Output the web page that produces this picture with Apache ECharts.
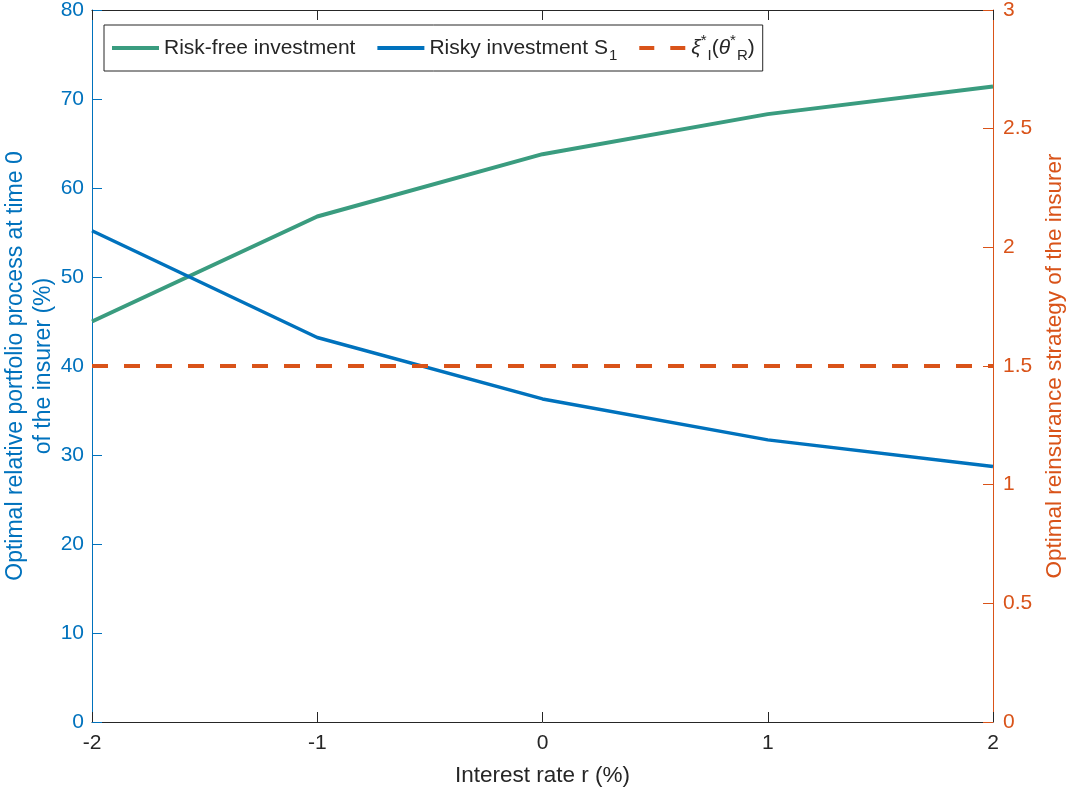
<!DOCTYPE html>
<html>
<head>
<meta charset="utf-8">
<script src="https://cdn.jsdelivr.net/npm/echarts@6/dist/echarts.min.js"></script>
<style>html,body{margin:0;padding:0;background:#fff;}#c{width:1068px;height:787px;}</style>
</head>
<body>
<div id="c"></div>
<script>
var rates = [-2, -1, 0, 1, 2];
var riskFree = [45.0, 56.8, 63.8, 68.3, 71.4];
var risky = [55.2, 43.2, 36.3, 31.7, 28.7];
var reinsurance = [1.5, 1.5, 1.5, 1.5, 1.5];
var xTicks = [-2, -1, 0, 1, 2];

function pairs(xs, ys) { return xs.map(function (x, i) { return [x, ys[i]]; }); }

var FONT = '"Liberation Sans", Arial, Helvetica, sans-serif';
var BLUE = '#0072BD', ORANGE = '#D95319', GREEN = '#3A9C7F', DARK = '#262626';

var chart = echarts.init(document.getElementById('c'));
chart.setOption({
  animation: false,
  backgroundColor: '#fff',
  textStyle: { fontFamily: FONT },
  grid: { left: 92, right: 75, top: 10, bottom: 65, containLabel: false, outerBoundsMode: 'none' },
  legend: {
    left: 104, top: 25,
    padding: [8, 8, 8, 6],
    itemGap: 20,
    itemWidth: 47, itemHeight: 20,
    borderColor: '#262626', borderWidth: 1, backgroundColor: '#fff',
    itemStyle: { opacity: 0 },
    textStyle: {
      fontFamily: FONT, fontSize: 21, color: DARK,
      rich: {
        n: { fontSize: 21, color: DARK, fontFamily: FONT },
        i: { fontSize: 21, color: DARK, fontFamily: FONT, fontStyle: 'italic' },
        sub: { fontSize: 15, color: DARK, fontFamily: FONT, verticalAlign: 'bottom', padding: [15, 0, 0, 1] },
        sup: { fontSize: 15, color: DARK, fontFamily: FONT, verticalAlign: 'top', padding: [0, 0, 8, 0] }
      }
    },
    formatter: function (name) {
      if (name === 'risky') return '{n|Risky investment S}{sub|1}';
      if (name === 'xi') return '{i|ξ}{sup|*}{sub|I}{n|(}{i|θ}{sup|*}{sub|R}{n|)}';
      return '{n|Risk-free investment}';
    },
    data: [
      { name: 'riskfree', lineStyle: { color: GREEN, width: 4 } },
      { name: 'risky', lineStyle: { color: BLUE, width: 4 } },
      { name: 'xi', lineStyle: { color: ORANGE, width: 4, type: [15, 16] } }
    ]
  },
  xAxis: [{
    type: 'value', min: -2, max: 2, interval: 1,
    name: 'Interest rate r (%)', nameLocation: 'middle', nameGap: 42,
    nameTextStyle: { fontSize: 22.5, color: DARK, fontFamily: FONT },
    axisLine: { lineStyle: { color: DARK, width: 1 } },
    axisTick: { inside: true, length: 10, lineStyle: { color: DARK } },
    axisLabel: { fontSize: 21, color: DARK, margin: 11, fontFamily: FONT,
      formatter: function (v) { return xTicks.indexOf(v) >= 0 ? String(v) : ''; } },
    splitLine: { show: false }
  }, {
    type: 'value', min: -2, max: 2, interval: 1, position: 'top',
    axisLine: { onZero: false, lineStyle: { color: DARK, width: 1 } },
    axisTick: { inside: true, length: 10, lineStyle: { color: DARK } },
    axisLabel: { show: false }, splitLine: { show: false }
  }],
  yAxis: [{
    type: 'value', min: 0, max: 80, interval: 10, position: 'left',
    name: 'Optimal relative portfolio process at time 0\nof the insurer (%)',
    nameLocation: 'middle', nameGap: 34, nameMoveOverlap: false,
    nameTextStyle: { fontSize: 23, color: BLUE, fontFamily: FONT, lineHeight: 28 },
    axisLine: { show: true, onZero: false, lineStyle: { color: BLUE, width: 1 } },
    axisTick: { show: true, inside: true, length: 10, lineStyle: { color: BLUE } },
    axisLabel: { fontSize: 21, color: BLUE, margin: 8, fontFamily: FONT },
    splitLine: { show: false }
  }, {
    type: 'value', min: 0, max: 3, interval: 0.5, position: 'right',
    name: 'Optimal reinsurance strategy of the insurer',
    nameLocation: 'middle', nameGap: 50,
    nameTextStyle: { fontSize: 22.5, color: ORANGE, fontFamily: FONT },
    axisLine: { show: true, onZero: false, lineStyle: { color: ORANGE, width: 1 } },
    axisTick: { show: true, inside: true, length: 10, lineStyle: { color: ORANGE } },
    axisLabel: { fontSize: 21, color: ORANGE, margin: 10, fontFamily: FONT },
    splitLine: { show: false }
  }],
  series: [{
    name: 'riskfree', type: 'line', xAxisIndex: 0, yAxisIndex: 0,
    data: pairs(rates, riskFree), symbol: 'none', color: GREEN,
    lineStyle: { color: GREEN, width: 4 }
  }, {
    name: 'risky', type: 'line', xAxisIndex: 0, yAxisIndex: 0,
    data: pairs(rates, risky), symbol: 'none', color: BLUE,
    lineStyle: { color: BLUE, width: 3.5 }
  }, {
    name: 'xi', type: 'line', xAxisIndex: 0, yAxisIndex: 1,
    data: pairs(rates, reinsurance), symbol: 'none', color: ORANGE,
    lineStyle: { color: ORANGE, width: 4, type: [16, 16] }
  }]
});
</script>
</body>
</html>
